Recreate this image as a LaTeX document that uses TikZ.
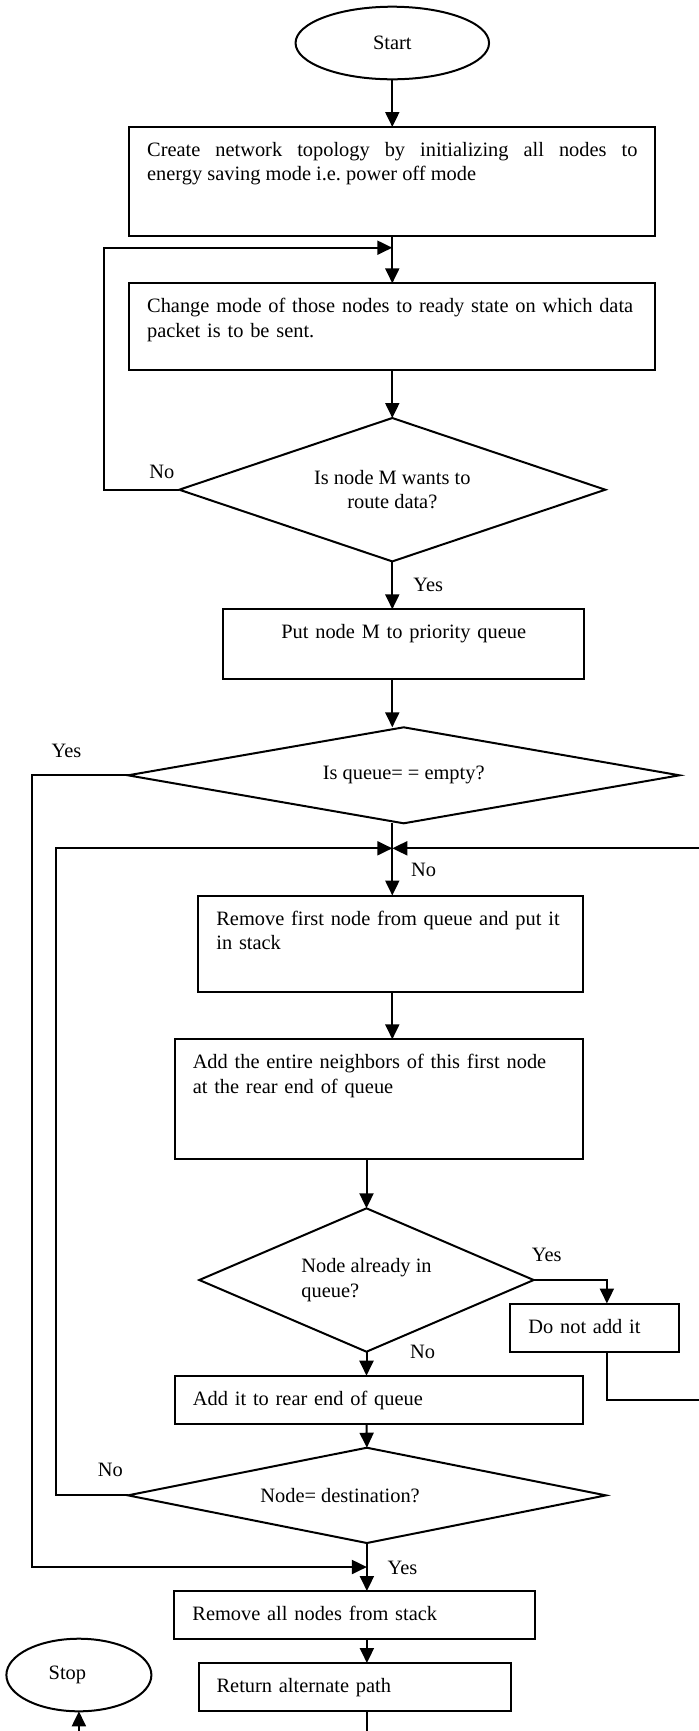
\documentclass[tikz,border=0pt]{standalone}
\usepackage{fontspec}
\setmainfont{Liberation Serif}
\usetikzlibrary{arrows.meta,positioning,shapes.geometric,calc}

\begin{document}
\begin{tikzpicture}[x=0.5pt, y=-0.5pt,
  proc/.style={draw, line width=1pt, align=left, font=\fontsize{10.2}{12.2}\selectfont,
    inner xsep=9pt, inner ysep=0pt, outer sep=0pt, text height=14.75pt, text depth=9.25pt},
  dec/.style={draw, diamond, line width=1pt, inner sep=0pt, outer sep=0pt, font=\fontsize{10.2}{12.2}\selectfont},
  term/.style={draw, ellipse, line width=1pt, inner sep=0pt, outer sep=0pt, minimum height=36.3pt, font=\fontsize{10.2}{12.2}\selectfont},
  flow/.style={-{Triangle[length=7.5pt, width=7pt]}, line width=1pt},
  lbl/.style={inner sep=0pt, font=\fontsize{10.2}{12.2}\selectfont},
  node distance=24pt]
\useasboundingbox (0,0) rectangle (699,1731);

\coordinate (railY) at (31.7,0);
\coordinate (railN) at (55.7,0);
\coordinate (railA) at (104,0);
\coordinate (railR) at (705,0);

\node[term, minimum width=96.75pt] (start) at (392.3,43) {Start};
\node[proc, below=23.85pt of start, text width=245.15pt, align=justify, text depth=39.6pt] (create)
  {Create network topology by initializing all nodes to\linebreak energy saving mode i.e.\ power off mode};
\node[proc, below=23.8pt of create, text width=245.15pt, text depth=28.6pt] (ready)
  {Change mode of those nodes to ready state on which data\\packet is to be sent.};
\node[dec, below=24pt of ready, aspect=2.97, minimum width=213pt, minimum height=71.7pt, align=center] (wants)
  {Is node M wants to\\route data?};
\node[proc, below=23.95pt of wants, xshift=5.7pt, text width=162.3pt, align=center, text depth=20.25pt] (prio)
  {Put node M to priority queue};
\node[dec, below=24pt of prio, aspect=5.74, minimum width=275.75pt, minimum height=48pt] (empty)
  {Is queue= = empty?};
\node[proc, below=36.1pt of empty, xshift=-6.6pt, text width=174.15pt, text depth=33.35pt] (pop)
  {Remove first node from queue and put it\\in stack};
\node[proc, below=23.8pt of pop, xshift=-5.9pt, text width=185.95pt, text depth=45.25pt] (nbrs)
  {Add the entire neighbors of this first node\\at the rear end of queue};
\node[dec, below=24.5pt of nbrs, xshift=-6.1pt, aspect=2.33, minimum width=167.2pt, minimum height=71.7pt, align=left] (inq)
  {Node already in\\queue?};
\node[proc, anchor=north west, text width=66.5pt] (skip) at ($(inq.east)+(-23.3,23.5)$) {Do not add it};
\node[proc, below=12pt of inq, xshift=6.2pt, text width=185.95pt] (add)
  {Add it to rear end of queue};
\node[dec, below=12pt of add, xshift=-6pt, aspect=5.01, minimum width=238.95pt, minimum height=47.65pt] (dest)
  {Node= destination?\hspace*{26.8pt}};
\node[proc, below=24pt of dest, xshift=-6.1pt, text width=162.3pt] (clear)
  {Remove all nodes from stack};
\node[proc, below=12pt of clear, text width=138.1pt] (path)
  {Return alternate path};
\node[term, left=23.6pt of path, yshift=6pt, minimum width=72.5pt] (stop) {Stop\hspace*{11.5pt}};

\coordinate (j1) at ($(create.south)+(0,12)$);
\coordinate (j2) at ($(empty.south -| wants.south)+(0,25)$);
\coordinate (yj) at ($(dest.south)!0.5!(dest.south |- clear.north)$);

\draw[flow] (start) -- (create);
\draw[flow] (create) -- (ready);
\draw[flow] (ready) -- (wants);
\draw[flow] (wants.west) -- (wants.west -| railA) |- (j1);
\draw[flow] (wants.south) -- (wants.south |- prio.north);
\draw[flow] (prio.south -| wants.south) -- (empty.north -| wants.south);
\draw[flow] (empty.south -| wants.south) -- (pop.north -| wants.south);
\draw[flow] (empty.west) -- (empty.west -| railY) |- (yj);
\draw[flow] (pop.south -| wants.south) -- (nbrs.north -| wants.south);
\draw[flow] (inq.north |- nbrs.south) -- (inq.north);
\draw[flow] (inq.east) -| ([xshift=6pt]skip.north);
\draw[flow] ([xshift=6pt]skip.south) |- (add.east -| railR) |- (j2);
\draw[flow] (inq.south) -- (inq.south |- add.north);
\draw[flow] (add.south -| inq.south) -- (dest.north);
\draw[flow] (dest.west) -- (dest.west -| railN) |- (j2);
\draw[flow] (dest.south) -- (dest.south |- clear.north);
\draw[flow] (clear.south -| dest.south) -- (path.north -| dest.south);
\draw[flow] (path.south -| dest.south) -- ++(0,40) -| (stop.south);

\node[lbl] (noA) at ($(wants.west)+(-17.4,-18)$) {No};
\node[lbl] (yesA) at ($(wants.south)+(36,23.6)$) {Yes};
\node[lbl] (yesB) at ($(empty.west)+(-61.5,-24.6)$) {Yes};
\node[lbl] (noB) at ($(j2)+(31.2,21.7)$) {No};
\node[lbl] (yesC) at ($(inq.east)+(13,-24.8)$) {Yes};
\node[lbl] (noC) at ($(inq.south)+(56,0)$) {No};
\node[lbl] (noD) at ($(dest.west)+(-17.5,-25.5)$) {No};
\node[lbl] (yesD) at ($(yj)+(35.5,1)$) {Yes};
\end{tikzpicture}
\end{document}
